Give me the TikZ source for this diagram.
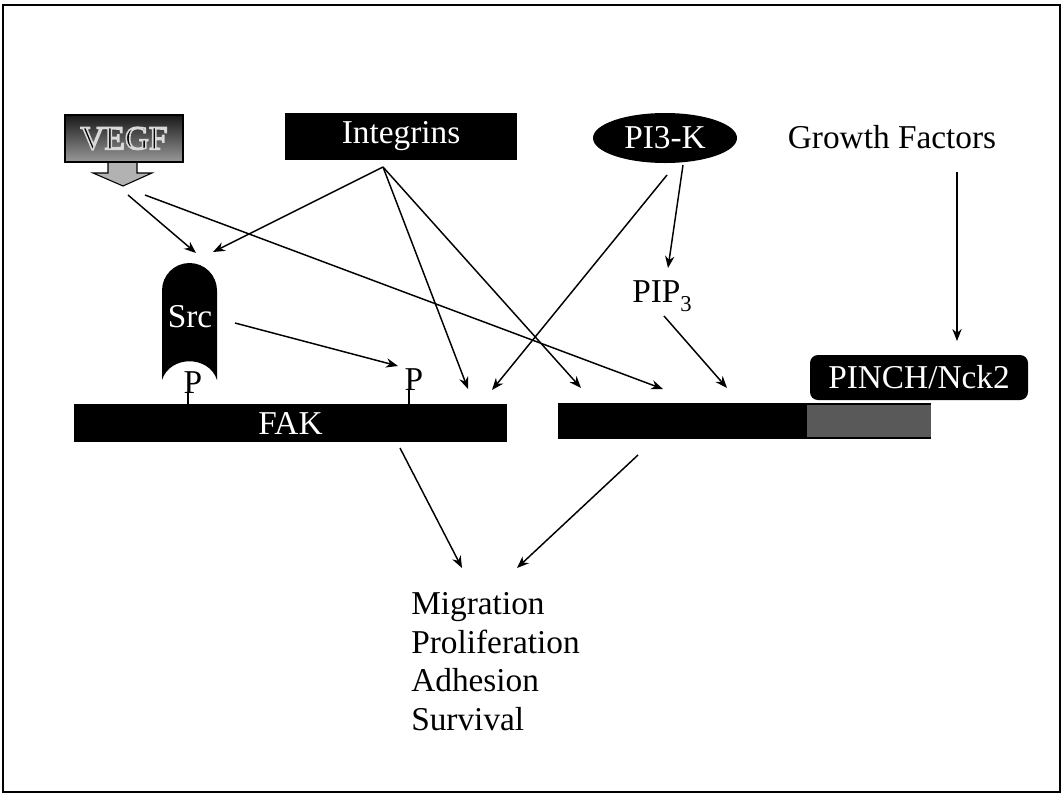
\documentclass[tikz,border=0pt]{standalone}
\usepackage{fontspec}
\setmainfont{Liberation Serif}
\usetikzlibrary{arrows.meta,shapes.geometric}
\begin{document}
\begin{tikzpicture}[x=0.75pt,y=-0.75pt,
  every node/.style={font=\fontsize{25}{30}\selectfont, inner sep=0pt},
  arr/.style={line width=1.1pt,-{Stealth[length=9pt,width=7pt]}},
  blackbox/.style={fill=black,text=white},
  stem/.style={line width=1.2pt}]
\useasboundingbox (0,0) rectangle (1063,797);
\draw[line width=2pt] (3,5) rectangle (1060,792);

% VEGF box with block arrow
\draw[fill=black!30,line width=0.8pt] (108,161) -- (108,173) -- (93,173) -- (123,186) -- (152,173) -- (137,173) -- (137,161) -- cycle;
\node[draw=black,line width=0.8pt,top color=black!90,bottom color=black!40,
      minimum width=88.5pt,minimum height=35.25pt] (vegf) at (124,138.5)
      {\special{pdf:literal 0.85 0.85 0.85 RG 1.2 w 2 Tr}VEGF\special{pdf:literal 0 Tr}};

% top row
\node[blackbox,minimum width=174pt,minimum height=35.25pt] (integ) at (401,136.5) {Integrins};
\node[blackbox,ellipse,minimum width=108pt,minimum height=37.5pt] (pi3k) at (665,138) {PI3-K};
\node (gf) at (892,137) {Growth Factors};

% Src
\fill (162,380) -- (162,290.5) arc[start angle=180,end angle=360,radius=27.5]
      -- (217,380) .. controls (209,355) and (170,355) .. (162,380) -- cycle;
\node[text=white] (src) at (190,317) {Src};

% bars
\node[blackbox,minimum width=324.75pt,minimum height=28.5pt] (fak) at (290.5,423) {FAK};
\node[fill=black,minimum width=279.75pt,minimum height=27pt] (ilk) at (744.5,421) {};
\fill[black!65] ([xshift=-93pt,yshift=-2pt]ilk.north east) rectangle ([yshift=2pt]ilk.south east);
\node[blackbox,rounded corners=6pt,minimum width=163.5pt,minimum height=33.75pt] (pinch) at (919,377.5) {PINCH/Nck2};

% phosphates
\node[anchor=base] (p1) at (193,393) {P};
\node[anchor=base] (p2) at (414,390) {P};
\draw[stem] ([xshift=-3.75pt]p1.base) -- ([xshift=-3.75pt]p1.base |- fak.north);
\draw[stem] ([xshift=-3.75pt]p2.base) -- ([xshift=-3.75pt]p2.base |- fak.north);

% PIP3
\node[anchor=base west] (pip) at (632,302) {PIP\raisebox{-7pt}{\fontsize{17}{17}\selectfont 3}};

% outcomes
\node[anchor=north west,align=left,font=\fontsize{25}{29}\selectfont] (out) at (411,592) {Migration\\Proliferation\\Adhesion\\Survival};

% arrow end points
\coordinate (vA) at (128,195);
\coordinate (vB) at (145,195);
\coordinate (srcT1) at (196,253);
\coordinate (srcT2) at (213,252);
\coordinate (intB) at (383,167);
\coordinate (fakT1) at (468,389);
\coordinate (fakT2) at (492,390);
\coordinate (ilkT1) at (663,389);
\coordinate (ilkT2) at (581,388);
\coordinate (ilkT3) at (727,388);
\coordinate (pA) at (667,175);
\coordinate (pB) at (683,165);
\coordinate (pipT) at (668,268);
\coordinate (pipB) at (664,316);
\coordinate (gfA) at (957,172);
\coordinate (gfT) at (957,341);
\coordinate (srcR) at (235,323);
\coordinate (p2T) at (398,366);
\coordinate (fakB) at (400,448);
\coordinate (ilkB) at (638,455);
\coordinate (outT1) at (462,568);
\coordinate (outT2) at (517,568);

\draw[arr] (vA) -- (srcT1);
\draw[arr] (vB) -- (ilkT1);
\draw[arr] (intB) -- (srcT2);
\draw[arr] (intB) -- (fakT1);
\draw[arr] (intB) -- (ilkT2);
\draw[arr] (pA) -- (fakT2);
\draw[arr] (pB) -- (pipT);
\draw[arr] (pipB) -- (ilkT3);
\draw[arr] (gfA) -- (gfT);
\draw[arr] (srcR) -- (p2T);
\draw[arr] (fakB) -- (outT1);
\draw[arr] (ilkB) -- (outT2);
\end{tikzpicture}
\end{document}
